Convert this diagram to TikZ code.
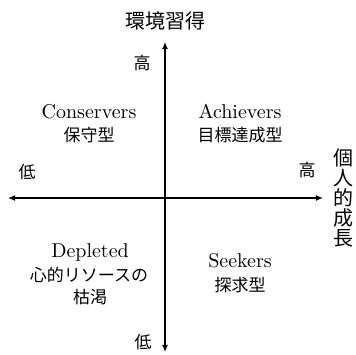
\documentclass[tikz,border=0pt]{standalone}
\usepackage{fontspec}
\newfontfamily\jp{Noto Sans CJK JP}
\usetikzlibrary{arrows.meta}
\tikzset{
  axis/.style={line width=0.6pt, {Latex[length=3.6pt,width=3pt]}-{Latex[length=3.6pt,width=3pt]}},
  en/.style={inner sep=0pt, anchor=base, font=\fontsize{10}{12}\selectfont},
  ja/.style={inner sep=0pt, font=\jp\fontsize{8.5}{11}\selectfont},
  big/.style={inner sep=0pt, font=\jp\fontsize{10}{10}\selectfont},
}
\begin{document}
\begin{tikzpicture}[x=0.5pt,y=-0.5pt]
\useasboundingbox (0,0) rectangle (356,354);
\coordinate (vt) at (165,42);
\coordinate (vb) at (165,352);
\coordinate (hl) at (8,198);
\coordinate (hr) at (323,198);
\draw[axis] (vb) -- (vt);
\draw[axis] (hl) -- (hr);
\node[big] (title) at (165,21) {環境習得};
\node[big, align=center, font=\jp\fontsize{10}{10}\selectfont] (xlab) at (343,198) {個\\人\\的\\成\\長};
\node[ja] (hightop) at (142,63) {高};
\node[ja] (lowbot) at (143,342) {低};
\node[ja] (lowleft) at (27,172) {低};
\node[ja] (highright) at (307,170) {高};
\node[en] (cons) at (89,118) {Conservers};
\node[ja] (consj) at (89,135) {保守型};
\node[en] (ach) at (240,118) {Achievers};
\node[ja] (achj) at (240,135) {目標達成型};
\node[en] (dep) at (90,257) {Depleted};
\node[ja] (depj1) at (89,275) {心的リソースの};
\node[ja] (depj2) at (90,297) {枯渇};
\node[en] (seek) at (240,267) {Seekers};
\node[ja] (seekj) at (240,285) {探求型};
\end{tikzpicture}
\end{document}
